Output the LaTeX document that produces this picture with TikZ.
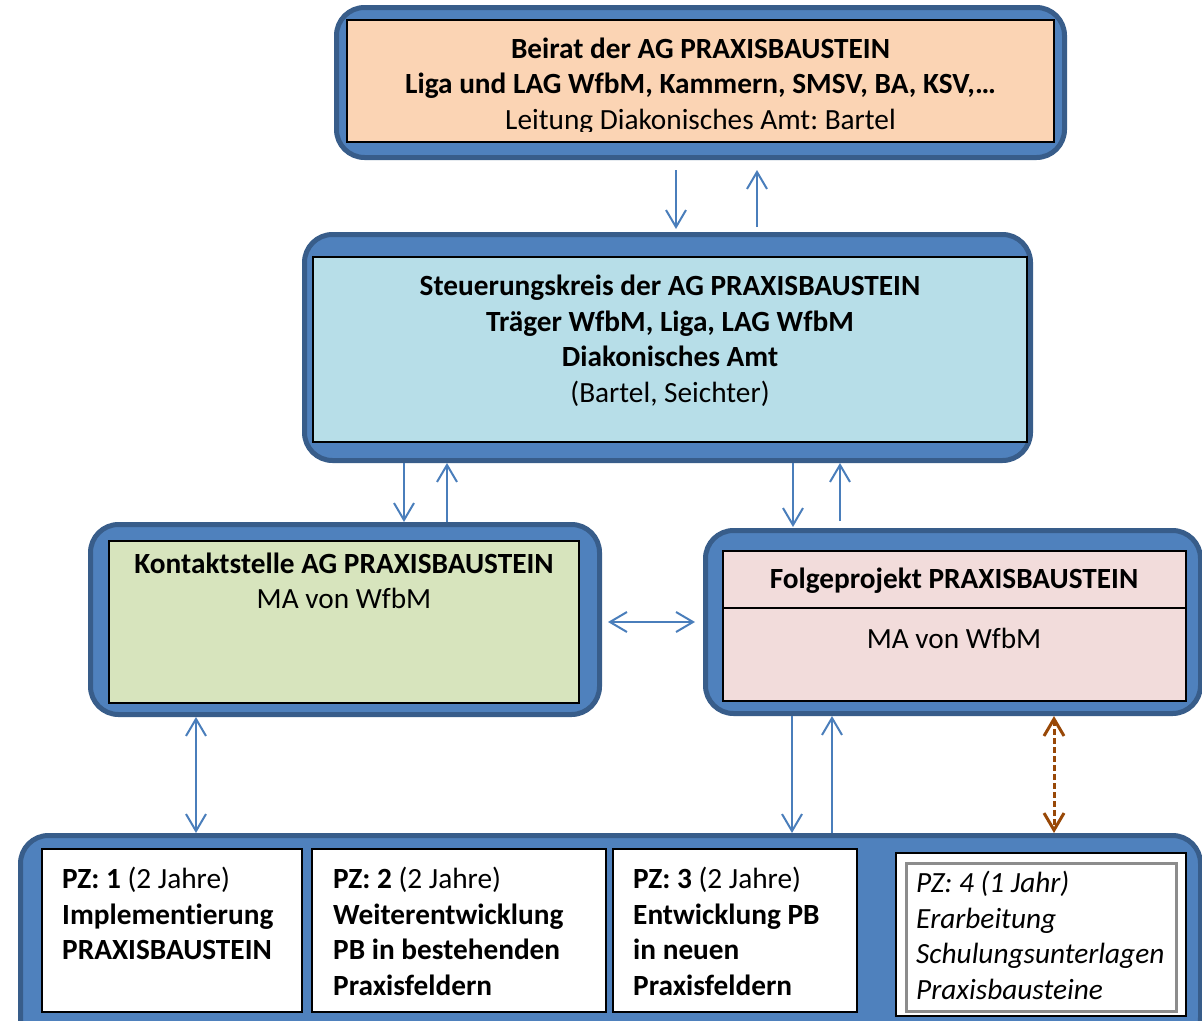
\documentclass[tikz,border=0pt]{standalone}
\usepackage{fontspec}
\setmainfont{Carlito}[Ligatures=NoCommon]
\frenchspacing
\usetikzlibrary{arrows.meta,positioning,calc}
\definecolor{orgblue}{HTML}{4F81BD}
\definecolor{orgedge}{HTML}{385D8A}
\definecolor{linkblue}{HTML}{4A7EBB}
\definecolor{beiratfill}{HTML}{FBD4B4}
\definecolor{steuerfill}{HTML}{B7DEE8}
\definecolor{kontaktfill}{HTML}{D7E4BD}
\definecolor{folgefill}{HTML}{F2DCDB}
\definecolor{pzbrown}{HTML}{984807}

\tikzset{
  outerbox/.style={draw=orgedge,fill=orgblue,line width=5pt,rounded corners=28pt,inner sep=0pt},
  innerbox/.style={draw=black,line width=2pt,inner sep=0pt},
  link/.style={draw=linkblue,line width=2pt,-{Straight Barb[length=17pt,width=20pt]}},
  dlink/.style={link,{Straight Barb[length=17pt,width=20pt]}-{Straight Barb[length=17pt,width=20pt]}},
  txt/.style={font=\fontsize{29.3}{35.5}\selectfont,align=center,inner sep=0pt},
  pztxt/.style={txt,align=left,anchor=north west},
}

\begin{document}
\begin{tikzpicture}[x=1pt,y=-1pt]
  \clip (0,0) rectangle (1202,1020);
  % organisation boxes
  \node[outerbox,minimum width=728pt,minimum height=150pt] (beirat) at (700.5,82.5) {};
  \node[innerbox,fill=beiratfill,minimum width=707pt,minimum height=122pt] (beiratin) at (700.5,81) {};
  \begin{scope}
    \clip (348,21) rectangle (1053,131);
    \node[txt] (beirattxt) at (700.5,86) {\textbf{Beirat der AG PRAXISBAUSTEIN}\\
      \textbf{Liga und LAG WfbM, Kammern, SMSV, BA, KSV,…}\\ Leitung Diakonisches Amt: Bartel};
  \end{scope}

  \node[outerbox,minimum width=726pt,minimum height=226pt] (steuer) at (667.5,347.5) {};
  \node[innerbox,fill=steuerfill,minimum width=714pt,minimum height=185pt] (steuerin) at (670,349.5) {};
  \node[txt] (steuertxt) at (670,340.5) {\textbf{Steuerungskreis der AG PRAXISBAUSTEIN}\\
    \textbf{Träger WfbM, Liga, LAG WfbM}\\ \textbf{Diakonisches Amt}\\ (Bartel, Seichter)};

  \node[outerbox,minimum width=509pt,minimum height=190pt] (kontakt) at (345,619.5) {};
  \node[innerbox,fill=kontaktfill,minimum width=470pt,minimum height=162pt] (kontaktin) at (344,622) {};
  \node[txt] (kontakttxt) at (344,581) {\textbf{Kontaktstelle AG PRAXISBAUSTEIN}\\ MA von WfbM};

  \node[outerbox,minimum width=495pt,minimum height=183pt] (folge) at (953,622) {};
  \node[innerbox,fill=folgefill,minimum width=463pt,minimum height=150pt] (folgein) at (954.5,626) {};
  \draw[line width=2pt] (folgein.west |- 0,608) -- (folgein.east |- 0,608);
  \node[txt] (folgetxt) at (954,581) {\textbf{Folgeprojekt PRAXISBAUSTEIN}};
  \node[txt] (folgema) at (954,638) {MA von WfbM};

  % Projektzweige
  \node[outerbox,minimum width=1180pt,minimum height=210pt] (pz) at (610.5,940.5) {};
  \node[innerbox,fill=white,minimum width=260pt,minimum height=163pt] (pz1) at (172,930.5) {};
  \node[innerbox,fill=white,minimum width=294pt,minimum height=163pt] (pz2) at (459,930.5) {};
  \node[innerbox,fill=white,minimum width=244pt,minimum height=163pt] (pz3) at (735,930.5) {};
  \node[innerbox,fill=white,minimum width=290pt,minimum height=163pt] (pz4) at (1041,934.5) {};
  \node[draw=black!45,line width=3pt,minimum width=270pt,minimum height=148pt] (pz4in) at (1041,937) {};
  \node[pztxt] (pz1txt) at ($(pz1.north west)+(21,19)$) {\textbf{PZ: 1} (2 Jahre)\\
    \textbf{Implementierung}\\ \textbf{PRAXISBAUSTEIN}};
  \node[pztxt] (pz2txt) at ($(pz2.north west)+(22,19)$) {\textbf{PZ: 2} (2 Jahre)\\
    \textbf{Weiterentwicklung}\\ \textbf{PB in bestehenden}\\ \textbf{Praxisfeldern}};
  \node[pztxt] (pz3txt) at ($(pz3.north west)+(21,19)$) {\textbf{PZ: 3} (2 Jahre)\\
    \textbf{Entwicklung PB}\\ \textbf{in neuen}\\ \textbf{Praxisfeldern}};
  \node[pztxt,font=\fontsize{29.3}{35.5}\selectfont\itshape] (pz4txt) at ($(pz4.north west)+(21,19)$) {PZ: 4 (1 Jahr)\\
    Erarbeitung\\ Schulungsunterlagen\\ Praxisbausteine};

  % Verbindungen
  \draw[link,shorten <=10pt,shorten >=3pt] (beirat.south -| 676,0) -- (steuer.north -| 676,0);
  \draw[link,shorten <=5pt,shorten >=10pt] (steuer.north -| 757,0) -- (beirat.south -| 757,0);
  \draw[link] (steuer.south -| 404,0) -- (kontakt.north -| 404,0);
  \draw[link] (kontakt.north -| 447,0) -- (steuer.south -| 447,0);
  \draw[link,shorten >=1pt] (steuer.south -| 793,0) -- (folge.north -| 793,0);
  \draw[link,shorten <=7pt] (folge.north -| 840,0) -- (steuer.south -| 840,0);
  \draw[dlink,shorten <=6pt,shorten >=8pt] (kontakt.east |- 0,622) -- (folge.west |- 0,622);
  \draw[dlink] (kontakt.south -| 196,0) -- (pz.north -| 196,0);
  \draw[link] (folge.south -| 792,0) -- (pz.north -| 792,0);
  \draw[link] (pz.north -| 832,0) -- (folge.south -| 832,0);
  \draw[dlink,draw=pzbrown,line width=3pt,dash pattern=on 6pt off 3pt] (folge.south -| 1054,0) -- (pz.north -| 1054,0);
\end{tikzpicture}
\end{document}
